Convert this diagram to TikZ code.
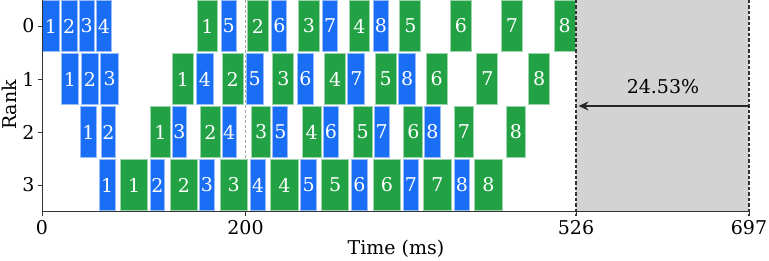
\documentclass[tikz,border=0pt]{standalone}
\usepackage{fontspec}
\setmainfont{DejaVu Serif}
\usetikzlibrary{arrows.meta}
\definecolor{fwd}{RGB}{26,110,245}
\definecolor{bwd}{RGB}{34,162,69}
\definecolor{idlegray}{RGB}{211,211,211}
\definecolor{axcol}{RGB}{50,50,50}
\tikzset{
  txt/.style={font=\fontsize{19}{22}\selectfont, inner sep=0pt},
  barbase/.style={txt, minimum height=51pt, text=white, line width=1pt},
  fbar/.style={barbase, fill=fwd, draw=fwd!45!white},
  gbar/.style={barbase, fill=bwd, draw=bwd!45!white},
  lbl/.style={txt, text=black},
  spine/.style={draw=axcol, line width=1pt},
  tick/.style={draw=axcol, line width=0.9pt},
  bound/.style={draw=black!80, line width=1.1pt, dash pattern=on 3.5pt off 2pt},
  gridl/.style={draw=black!35, line width=0.8pt, dash pattern=on 3pt off 2pt},
  gap/.style={draw=black!85, line width=2.6pt, -{Stealth[length=10pt,width=9pt]}}
}
\newcommand\mkbar[6]{\node[#1, minimum width={#4pt-#3pt-1pt}] (#2) at ({(#3+#4)/2},#5) {#6};}
\begin{document}
\begin{tikzpicture}[x=1pt,y=-1pt]
\useasboundingbox (0,0) rectangle (769,261);
% idle region
\fill[idlegray] (576,0) rectangle (749,212);
\draw[gridl] (245.5,0) -- (245.5,212);
% rank 0
\mkbar{fbar}{r0f1}{42}{60}{26}{1}
\mkbar{fbar}{r0f2}{61}{77.5}{26}{2}
\mkbar{fbar}{r0f3}{78.7}{94.7}{26}{3}
\mkbar{fbar}{r0f4}{96}{111.7}{26}{4}
\mkbar{gbar}{r0b1}{196.7}{218.3}{26}{1}
\mkbar{fbar}{r0f5}{220.7}{236.7}{26}{5}
\mkbar{gbar}{r0b2}{247}{269}{26}{2}
\mkbar{fbar}{r0f6}{271.3}{287.3}{26}{6}
\mkbar{gbar}{r0b3}{298}{320}{26}{3}
\mkbar{fbar}{r0f7}{322.3}{338}{26}{7}
\mkbar{gbar}{r0b4}{348.7}{370.3}{26}{4}
\mkbar{fbar}{r0f8}{373}{388.7}{26}{8}
\mkbar{gbar}{r0b5}{399.3}{421.3}{26}{5}
\mkbar{gbar}{r0b6}{450}{472}{26}{6}
\mkbar{gbar}{r0b7}{500.7}{523}{26}{7}
\mkbar{gbar}{r0b8}{553.7}{575.5}{26}{8}
% rank 1
\mkbar{fbar}{r1f1}{61}{79}{79}{1}
\mkbar{fbar}{r1f2}{81.3}{98.7}{79}{2}
\mkbar{fbar}{r1f3}{100.3}{119}{79}{3}
\mkbar{gbar}{r1b1}{172}{194}{79}{1}
\mkbar{fbar}{r1f4}{196}{214}{79}{4}
\mkbar{gbar}{r1b2}{221.7}{243.7}{79}{2}
\mkbar{fbar}{r1f5}{245.7}{263.7}{79}{5}
\mkbar{gbar}{r1b3}{272.3}{294.3}{79}{3}
\mkbar{fbar}{r1f6}{296.7}{314.3}{79}{6}
\mkbar{gbar}{r1b4}{324.3}{346}{79}{4}
\mkbar{fbar}{r1f7}{347.3}{365.3}{79}{7}
\mkbar{gbar}{r1b5}{374.7}{396.7}{79}{5}
\mkbar{fbar}{r1f8}{398}{416.3}{79}{8}
\mkbar{gbar}{r1b6}{425.7}{447.7}{79}{6}
\mkbar{gbar}{r1b7}{476.3}{498.3}{79}{7}
\mkbar{gbar}{r1b8}{528}{550.3}{79}{8}
% rank 2
\mkbar{fbar}{r2f1}{80.3}{96.7}{132}{1}
\mkbar{fbar}{r2f2}{100.7}{116}{132}{2}
\mkbar{gbar}{r2b1}{150.3}{170.7}{132}{1}
\mkbar{fbar}{r2f3}{171.7}{187}{132}{3}
\mkbar{gbar}{r2b2}{200.3}{220.7}{132}{2}
\mkbar{fbar}{r2f4}{221.7}{236.7}{132}{4}
\mkbar{gbar}{r2b3}{251}{271.3}{132}{3}
\mkbar{fbar}{r2f5}{272.3}{288.3}{132}{5}
\mkbar{gbar}{r2b4}{301.7}{321.7}{132}{4}
\mkbar{fbar}{r2f6}{323}{339}{132}{6}
\mkbar{gbar}{r2b5}{352.7}{372.7}{132}{5}
\mkbar{fbar}{r2f7}{373.7}{389.7}{132}{7}
\mkbar{gbar}{r2b6}{403.3}{423.3}{132}{6}
\mkbar{fbar}{r2f8}{424.3}{440.7}{132}{8}
\mkbar{gbar}{r2b7}{454}{474}{132}{7}
\mkbar{gbar}{r2b8}{505.7}{526}{132}{8}
% rank 3
\mkbar{fbar}{r3f1}{98.7}{115.7}{185}{1}
\mkbar{gbar}{r3b1}{120}{148.3}{185}{1}
\mkbar{fbar}{r3f2}{149.7}{165.3}{185}{2}
\mkbar{gbar}{r3b2}{169.7}{198}{185}{2}
\mkbar{fbar}{r3f3}{199}{215}{185}{3}
\mkbar{gbar}{r3b3}{219.7}{247.7}{185}{3}
\mkbar{fbar}{r3f4}{249.7}{266.3}{185}{4}
\mkbar{gbar}{r3b4}{270.3}{298.7}{185}{4}
\mkbar{fbar}{r3f5}{300.3}{317}{185}{5}
\mkbar{gbar}{r3b5}{321}{349.3}{185}{5}
\mkbar{fbar}{r3f6}{351.3}{367.7}{185}{6}
\mkbar{gbar}{r3b6}{372.7}{401}{185}{6}
\mkbar{fbar}{r3f7}{402.7}{419}{185}{7}
\mkbar{gbar}{r3b7}{423.3}{451.7}{185}{7}
\mkbar{fbar}{r3f8}{453.7}{470}{185}{8}
\mkbar{gbar}{r3b8}{474.3}{502.7}{185}{8}
% bounds of idle region
\coordinate (s0) at (576,0);
\coordinate (s1) at (576,216);
\coordinate (e0) at (749,0);
\coordinate (e1) at (749,216);
\draw[bound] (s0) -- (s1);
\draw[bound] (e0) -- (e1);
% axes
\coordinate (o) at (42,212);
\coordinate (yt) at (42,0);
\coordinate (xr) at (749,212);
\draw[spine] (yt) -- (o) -- (xr);
\foreach \y/\r in {26/0,79/1,132/2,185/3}{
  \draw[tick] (38,\y) -- (42,\y);
  \node[lbl] (rk\r) at (28.5,\y) {\r};
}
\foreach \x/\t in {42/0,245.5/200,576/526,749/697}{
  \draw[tick] (\x,212) -- (\x,216.5);
  \node[lbl] (tk\t) at (\x,228) {\t};
}
\node[lbl, rotate=90] (ylab) at (9.5,105) {Rank};
\node[lbl] (xlab) at (396,249) {Time (ms)};
% idle gap arrow
\coordinate (aS) at (749,106);
\coordinate (aE) at (578.5,106);
\draw[gap] (aS) -- (aE);
\node[lbl] (pct) at (663,87) {24.53\%};
\end{tikzpicture}
\end{document}
